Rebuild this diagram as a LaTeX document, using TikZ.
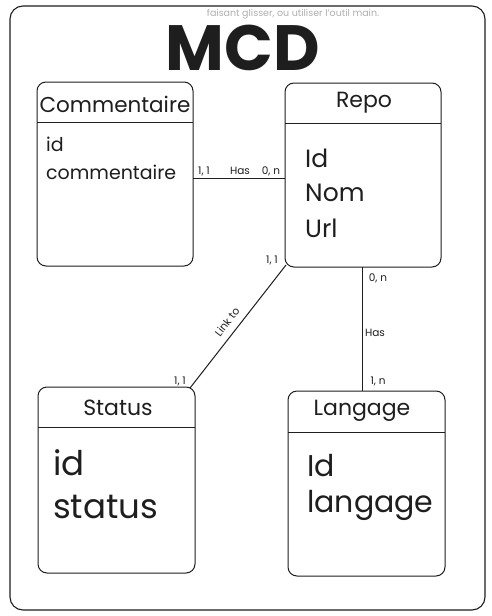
\documentclass[tikz,border=0pt]{standalone}
\usepackage{fontspec}
\setmainfont{Poppins}
\definecolor{ink}{HTML}{1E1E1E}
\definecolor{faint}{HTML}{B0B0B0}
\begin{document}
\begin{tikzpicture}[x=1pt,y=-1pt,
  ent/.style={draw=ink,line width=1pt,rounded corners=9pt},
  sep/.style={draw=ink,line width=0.9pt},
  conn/.style={draw=ink,line width=1pt},
  lbl/.style={font=\fontsize{10.5}{12}\selectfont,text=ink,inner sep=1pt},
  ttl/.style={font=\fontsize{22}{26}\selectfont,text=ink,inner sep=0pt},
  attr/.style={anchor=west,text=ink,inner sep=0pt}]
\useasboundingbox (0,0) rectangle (491,616);
\fill[white] (0,0) rectangle (491,616);
% frame
\draw[ink,line width=1.1pt,rounded corners=13pt] (10,6) rectangle (485,610);
\node[text=faint,font=\fontsize{9.5}{11}\selectfont,inner sep=0pt] (hint) at (293,14) {faisant glisser, ou utiliser l'outil main.};
\node[text=ink,font=\fontsize{64}{70}\bfseries\selectfont,inner sep=0pt] (mcd) at (243,48) {MCD};
% Commentaire
\path[ent] (37,82) rectangle (193,266);
\node (com) at (115,174) [minimum width=156pt,minimum height=184pt,inner sep=0pt] {};
\draw[sep] (37,122) -- (193,122);
\node[ttl,font=\fontsize{21.5}{26}\selectfont] (comt) at (115,104) {Commentaire};
\node[attr,font=\fontsize{19}{22}\selectfont] (coma) at (46,144) {id};
\node[attr,font=\fontsize{19}{22}\selectfont] (comb) at (46,172) {commentaire};
% Repo
\path[ent] (285,83) rectangle (441,267);
\node (repo) at (363,175) [minimum width=156pt,minimum height=184pt,inner sep=0pt] {};
\draw[sep] (285,123) -- (441,123);
\node[ttl] (repot) at (364,103) {Repo};
\node[attr,font=\fontsize{25}{28}\selectfont] (repoa) at (305,158) {Id};
\node[attr,font=\fontsize{25}{28}\selectfont] (repob) at (305,193) {Nom};
\node[attr,font=\fontsize{25}{28}\selectfont] (repoc) at (305,228) {Url};
% Status
\path[ent] (38,387) rectangle (195,573);
\node (stat) at (116.5,480) [minimum width=157pt,minimum height=186pt,inner sep=0pt] {};
\draw[sep] (38,427) -- (195,427);
\node[ttl] (statt) at (118,408) {Status};
\node[attr,font=\fontsize{34}{38}\selectfont] (stata) at (53,463) {id};
\node[attr,font=\fontsize{34}{38}\selectfont] (statb) at (53,507) {status};
% Langage
\path[ent] (288,391) rectangle (445,576);
\node (lang) at (366.5,483.5) [minimum width=157pt,minimum height=185pt,inner sep=0pt] {};
\draw[sep] (288,432) -- (445,432);
\node[ttl] (langt) at (362,411) {Langage};
\node[attr,font=\fontsize{30}{33}\selectfont] (langa) at (307,466) {Id};
\node[attr,font=\fontsize{30}{33}\selectfont] (langb) at (307,505) {langage};
% connectors
\draw[conn] (com.east |- 0,178) -- (repo.west |- 0,178);
\node[lbl] at (204,171) {1, 1};
\node[lbl] at (240,171) {Has};
\node[lbl] at (271,171) {0, n};
\draw[conn] (repo.south -| 362,0) -- (lang.north -| 362,0);
\node[lbl] at (378,278) {0, n};
\node[lbl] at (375,333) {Has};
\node[lbl] at (378,381) {1, n};
\coordinate (ra) at (286,265);
\coordinate (sa) at (190,388);
\draw[conn] (ra) -- (sa);
\node[lbl] at (272,260) {1, 1};
\node[lbl,rotate=52] at (227,322) {Link to};
\node[lbl] at (180,381) {1, 1};
\end{tikzpicture}
\end{document}
